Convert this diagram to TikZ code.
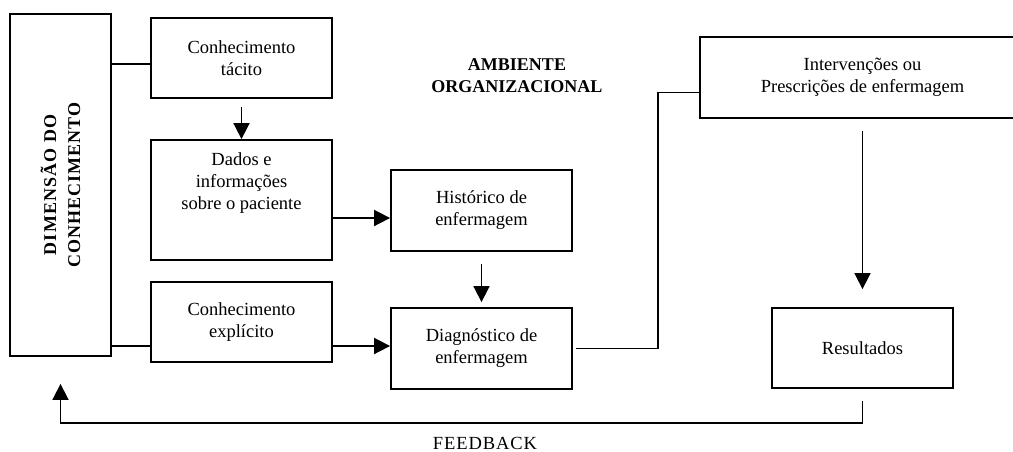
\documentclass[tikz,border=0pt]{standalone}
\usepackage{fontspec}
\setmainfont{Liberation Serif}
\usepackage{tikz}
\usetikzlibrary{arrows.meta}
\tikzset{
  box/.style={draw, line width=1.8pt, minimum width=181pt, minimum height=80pt,
    align=center, inner sep=0pt},
  arr/.style={line width=1.7pt, -{Triangle[length=16pt,width=16pt]}},
  link/.style={line width=1.7pt}
}

\begin{document}
\begin{tikzpicture}[x=1pt, y=-1pt, font=\fontsize{18.5}{22}\selectfont]
        \useasboundingbox (0,0) rectangle (1013,451);
        % knowledge dimension
        \node[box, minimum width=101pt, minimum height=342pt] (dim) at (60.5,185) {};
        \node[rotate=90, align=center, font=\fontsize{18}{24}\selectfont\bfseries\addfontfeature{LetterSpace=6}] (dimtxt) at (dim.center) {DIMENSÃO DO\\CONHECIMENTO};
        % left column
        \node[box] (tacito) at (241.5,58) {Conhecimento\\tácito};
        \node[box, minimum height=120pt] (dados) at (241.5,200)
             {\parbox[t][120pt][t]{175pt}{\centering\vspace*{13pt}Dados e\\informações\\sobre o paciente}};
        \node[box] (explicito) at (241.5,322) {Conhecimento\\explícito};
        % middle column
        \node[box, minimum height=81pt] (historico) at (481.5,210.5) {Histórico de\\enfermagem};
        \node[box, minimum height=81pt] (diag) at (481.5,348.5) {Diagnóstico de\\enfermagem};
        \node[align=center, font=\fontsize{18}{22}\selectfont\bfseries] (ambiente) at (517,76) {AMBIENTE\\ORGANIZACIONAL};
        % right column
        \node[box, minimum width=325pt, minimum height=81pt] (interv) at (862.5,77.5) {Intervenções ou\\Prescrições de enfermagem};
        \node[box] (result) at (862.5,348) {Resultados};
        \node[font=\fontsize{18.5}{22}\selectfont\addfontfeature{LetterSpace=5}] (feedback) at (485,443) {FEEDBACK};
        % plain links
        \draw[link] ([yshift=-6pt]tacito.west) -- ([yshift=-6pt]tacito.west -| dim.east);
        \draw[link] ([yshift=-24pt]explicito.west) -- ([yshift=-24pt]explicito.west -| dim.east);
        \draw[link] ([xshift=3pt]diag.east) -- ++(82pt,0) |- ([yshift=-15pt]interv.west);
        % arrows
        \draw[arr] ([yshift=-8pt]tacito.south) -- (tacito.south |- dados.north);
        \draw[arr] ([yshift=-18pt]dados.east) -- ([yshift=-18pt]dados.east -| historico.west);
        \draw[arr] ([yshift=-24pt]explicito.east) -- ([yshift=-24pt]explicito.east -| diag.west);
        \draw[arr] ([yshift=-12pt]historico.south) -- ([yshift=5pt]diag.north);
        \draw[arr] ([yshift=-12pt]interv.south -| result.north) -- ([yshift=18pt]result.north);
        % feedback loop
        \draw[arr] ([yshift=-12pt]result.south) -- ++(0,-22pt) -| ([yshift=-27pt]dim.south);
\end{tikzpicture}
\end{document}
